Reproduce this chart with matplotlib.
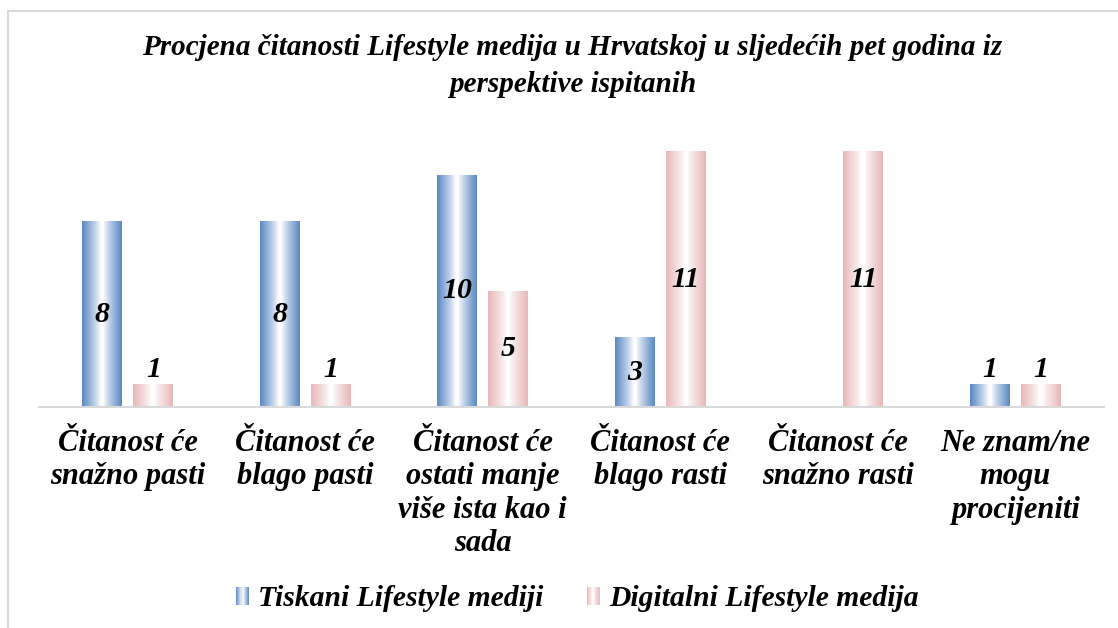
import numpy as np
import matplotlib
matplotlib.use("Agg")
import matplotlib.pyplot as plt
from matplotlib.patches import Rectangle
from matplotlib.legend_handler import HandlerBase
from matplotlib.colors import to_rgb

title = "Procjena čitanosti Lifestyle medija u Hrvatskoj u sljedećih pet godina iz\nperspektive ispitanih"
categories = [
    "Čitanost će\nsnažno pasti",
    "Čitanost će\nblago pasti",
    "Čitanost će\nostati manje\nviše ista kao i\nsada",
    "Čitanost će\nblago rasti",
    "Čitanost će\nsnažno rasti",
    "Ne znam/ne\nmogu\nprocijeniti",
]
series_names = ["Tiskani Lifestyle mediji", "Digitalni Lifestyle medija"]
tiskani = [8, 8, 10, 3, 0, 1]
digitalni = [1, 1, 5, 11, 11, 1]

edge_colors = ["#5a88c4", "#e8b8b8"]

FONT = dict(family=["Liberation Serif", "DejaVu Serif"], weight="bold", style="italic")

W, H = 1118, 628
fig = plt.figure(figsize=(W / 100, H / 100), dpi=100)
fig.patch.set_facecolor("white")

# outer border
fig.add_artist(Rectangle((8 / W, -0.02), 1.05, 1 - 11 / H + 0.02, transform=fig.transFigure,
                         fill=False, edgecolor="#d9d9d9", linewidth=1.5))

ax = fig.add_axes([39 / W, 1 - 407 / H, (1104 - 39) / W, 279 / H])
for s in ["top", "right", "left"]:
    ax.spines[s].set_visible(False)
ax.spines["bottom"].set_color("#d9d9d9")
ax.spines["bottom"].set_linewidth(1.5)
ax.set_yticks([])

x = np.arange(len(categories))
bw = 0.225
off = 0.144


def gradient_img(color, n=200):
    c = np.array(to_rgb(color))
    t = np.linspace(0, 1, n)
    d = np.abs(t - 0.5) * 2
    d = np.clip((d - 0.06) / 0.94, 0, 1) ** 0.85
    img = 1 + (c[None, :] - 1) * d[:, None]
    return img[None, :, :]


all_vals = [tiskani, digitalni]
for si, (vals, col) in enumerate(zip(all_vals, edge_colors)):
    offs = -off if si == 0 else off
    bars = ax.bar(x + offs, vals, width=bw, color="none", edgecolor="none")
    img = gradient_img(col)
    for b, v in zip(bars, vals):
        if v <= 0:
            continue
        x0, w, h = b.get_x(), b.get_width(), b.get_height()
        im = ax.imshow(img, extent=[x0, x0 + w, 0, h], aspect="auto", zorder=2,
                       interpolation="bilinear")
        im.set_clip_path(b)
        xc = x0 + w / 2
        if v >= 3:
            ax.text(xc, h / 2, str(v), ha="center", va="center", fontsize=21.5, zorder=3, **FONT)
        else:
            ax.text(xc, h + 0.05, str(v), ha="center", va="bottom", fontsize=21.5, zorder=3, **FONT)

ax.set_aspect("auto")
ax.set_xlim(-0.5, len(categories) - 0.5)
ax.set_ylim(0, 12)
ax.set_xticks(x)
ax.set_xticklabels(categories, fontsize=22, linespacing=1.19, **FONT)
ax.tick_params(axis="x", length=0, pad=16)

fig.text(0.512, 1 - 66 / H, title, ha="center", va="center", fontsize=21,
         linespacing=1.5, **FONT)


class GradHandler(HandlerBase):
    def __init__(self, color):
        super().__init__()
        self.color = np.array(to_rgb(color))

    def create_artists(self, legend, orig_handle, xdescent, ydescent, width, height, fontsize, trans):
        arts = []
        n = 12
        w = 9
        h = 13
        x0 = -xdescent + (width - w) / 2
        y0 = -ydescent + (height - h) / 2
        for i in range(n):
            t = (i + 0.5) / n
            d = abs(t - 0.5) * 2
            c = 1 + (self.color - 1) * d
            r = Rectangle((x0 + i * w / n, y0), w / n + 0.3, h, facecolor=c, edgecolor="none",
                          transform=trans)
            arts.append(r)
        return arts


h1 = Rectangle((0, 0), 1, 1)
h2 = Rectangle((0, 0), 1, 1)
leg = fig.legend([h1, h2], series_names, loc="center", bbox_to_anchor=(0.516, 1 - 599 / H),
                 ncol=2, frameon=False, prop=dict(size=21.3, **FONT),
                 handler_map={h1: GradHandler(edge_colors[0]), h2: GradHandler(edge_colors[1])},
                 handlelength=0.5, handletextpad=0.28, columnspacing=1.43)

fig.savefig("out.png", dpi=100, facecolor="white")
